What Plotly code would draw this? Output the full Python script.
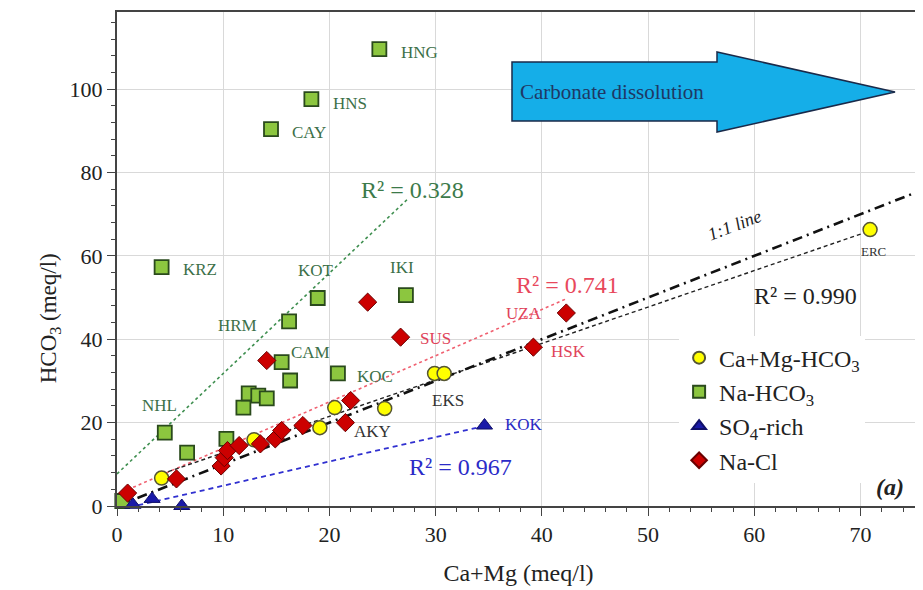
import plotly.graph_objects as go

# ---------------- data ----------------
cam_x = [4.2, 12.9, 19.1, 20.5, 25.2, 29.9, 30.8, 70.9]
cam_y = [6.7, 15.9, 18.8, 23.6, 23.4, 31.8, 31.8, 66.3]

nahco3_x = [0.5, 4.5, 6.6, 10.3, 11.9, 12.4, 13.3, 14.1, 15.5, 16.3, 20.8, 16.2, 18.9, 27.2, 4.2, 14.5, 18.3, 24.7]
nahco3_y = [1.2, 17.6, 12.8, 16.1, 23.6, 27.0, 26.5, 25.8, 34.5, 30.1, 31.8, 44.3, 49.9, 50.6, 57.3, 90.4, 97.6, 109.6]

so4_x = [1.5, 3.3, 6.1, 34.6]
so4_y = [0.3, 1.7, 0.0, 19.3]

nacl_x = [1.0, 5.6, 9.8, 10.1, 10.4, 11.5, 13.5, 14.9, 15.5, 17.5, 21.5, 22.0, 14.1, 23.6, 26.7, 39.2, 42.3]
nacl_y = [3.1, 6.5, 9.6, 11.6, 13.3, 14.5, 14.9, 16.1, 18.1, 19.3, 20.0, 25.3, 34.9, 48.9, 40.5, 38.1, 46.3]

# trend line end points
fit_green_x = [0.0, 27.4]
fit_green_y = [7.7, 73.7]
fit_red_x = [1.0, 42.3]
fit_red_y = [3.9, 49.7]
fit_blue_x = [2.0, 34.6]
fit_blue_y = [0.2, 19.2]
fit_black_x = [4.2, 70.9]
fit_black_y = [7.7, 66.0]
one_x = [0, 75.6]
one_y = [0, 75.6]

r2_text = ["R² = 0.328", "R² = 0.741", "R² = 0.967", "R² = 0.990"]
r2_x = [27.8, 42.4, 32.3, 64.8]
r2_y = [75.9, 53.0, 9.4, 50.4]

# point labels: (text, x, y)
green_labels = [("HNG", 24.7, 109.6), ("HNS", 18.3, 97.6), ("CAY", 14.5, 90.4), ("KRZ", 4.2, 57.3),
                ("KOT", 18.9, 49.9), ("IKI", 27.2, 50.6), ("HRM", 16.2, 44.3), ("CAM", 15.5, 34.5),
                ("KOC", 20.8, 31.8), ("NHL", 4.5, 17.6)]
red_labels = [("SUS", 26.7, 40.5), ("UZA", 42.3, 46.3), ("HSK", 39.2, 38.1)]
black_labels = [("EKS", 30.3, 31.8), ("AKY", 21.5, 20.0), ("ERC", 70.9, 66.3)]
blue_labels = [("KOK", 34.6, 19.3)]

SERIF = "'Liberation Serif', 'Times New Roman', Times, serif"
GREEN_TXT = "#3c7048"
RED_TXT = "#e0435a"
BLUE_TXT = "#2a2ac4"

fig = go.Figure()

# trend lines
fig.add_trace(go.Scatter(x=fit_green_x, y=fit_green_y, mode="lines", showlegend=False,
                         line=dict(color="#3f8f50", width=1.6, dash="3px,3px"), hoverinfo="skip"))
fig.add_trace(go.Scatter(x=fit_red_x, y=fit_red_y, mode="lines", showlegend=False,
                         line=dict(color="#f06070", width=1.6, dash="3px,3px"), hoverinfo="skip"))
fig.add_trace(go.Scatter(x=fit_blue_x, y=fit_blue_y, mode="lines", showlegend=False,
                         line=dict(color="#3030d0", width=1.8, dash="5px,4px"), hoverinfo="skip"))
fig.add_trace(go.Scatter(x=fit_black_x, y=fit_black_y, mode="lines", showlegend=False,
                         line=dict(color="#222222", width=1.4, dash="4px,3px"), hoverinfo="skip"))
fig.add_trace(go.Scatter(x=one_x, y=one_y, mode="lines", showlegend=False,
                         line=dict(color="#111111", width=2.6, dash="10px,5px,2px,5px"), hoverinfo="skip"))

# data points
fig.add_trace(go.Scatter(x=cam_x, y=cam_y, mode="markers", name="Ca+Mg-HCO<sub>3</sub>", cliponaxis=False,
                         marker=dict(symbol="circle", size=14, color="#ffff00",
                                     line=dict(color="#555533", width=1.5))))
fig.add_trace(go.Scatter(x=nahco3_x, y=nahco3_y, mode="markers", name="Na-HCO<sub>3</sub>", cliponaxis=False,
                         marker=dict(symbol="square", size=14, color="#8cc63f",
                                     line=dict(color="#2a4a1c", width=1.8))))
fig.add_trace(go.Scatter(x=so4_x, y=so4_y, mode="markers", name="SO<sub>4</sub>-rich", cliponaxis=False,
                         marker=dict(symbol="triangle-up", size=14, color="#1a1aa8",
                                     line=dict(color="#10106a", width=1))))
fig.add_trace(go.Scatter(x=nacl_x, y=nacl_y, mode="markers", name="Na-Cl", cliponaxis=False,
                         marker=dict(symbol="diamond", size=14, color="#cc0000",
                                     line=dict(color="#6a0000", width=1))))

ann = []
# label offsets (pixel shifts)
green_off = {"HNG": (20, -3, "left"), "HNS": (20, -4, "left"), "CAY": (19, -3, "left"),
             "KRZ": (19, -2, "left"), "KOT": (-2, 27, "center"), "IKI": (-4, 28, "center"),
             "HRM": (-30, -4, "right"), "CAM": (7, 10, "left"), "KOC": (17, -3, "left"),
             "NHL": (-5, 27, "center")}
for t, x, y in green_labels:
    dx, dy, xa = green_off[t]
    ann.append(dict(x=x, y=y, xref="x", yref="y", text=t, showarrow=False, xanchor=xa, yanchor="middle",
                    xshift=dx, yshift=dy, font=dict(family=SERIF, size=17, color=GREEN_TXT)))
red_off = {"SUS": (17, -1, "left"), "UZA": (-22, -1, "right"), "HSK": (16, -4, "left")}
for t, x, y in red_labels:
    dx, dy, xa = red_off[t]
    ann.append(dict(x=x, y=y, xref="x", yref="y", text=t, showarrow=False, xanchor=xa, yanchor="middle",
                    xshift=dx, yshift=dy, font=dict(family=SERIF, size=17, color=RED_TXT)))
black_off = {"EKS": (9, -27, "center", 17), "AKY": (7, -9, "left", 17), "ERC": (3, -22, "center", 13)}
for t, x, y in black_labels:
    dx, dy, xa, fs = black_off[t]
    ann.append(dict(x=x, y=y, xref="x", yref="y", text=t, showarrow=False, xanchor=xa, yanchor="middle",
                    xshift=dx, yshift=dy, font=dict(family=SERIF, size=fs, color="#333333")))
for t, x, y in blue_labels:
    ann.append(dict(x=x, y=y, xref="x", yref="y", text=t, showarrow=False, xanchor="left", yanchor="middle",
                    xshift=18, yshift=1, font=dict(family=SERIF, size=17, color=BLUE_TXT)))

r2_col = ["#3c7a4a", "#e8485c", "#2b2bc8", "#222222"]
for t, x, y, c in zip(r2_text, r2_x, r2_y, r2_col):
    ann.append(dict(x=x, y=y, xref="x", yref="y", text=t, showarrow=False,
                    xanchor="center", yanchor="middle",
                    font=dict(family=SERIF, size=24, color=c)))

ann.append(dict(x=0.4994, y=0.838, xref="paper", yref="paper", text="Carbonate dissolution",
                showarrow=False, xanchor="left", yanchor="middle",
                font=dict(family=SERIF, size=21, color="#1f3864")))
ann.append(dict(x=0.7696, y=0.568, xref="paper", yref="paper", text="<i>1:1 line</i>",
                showarrow=False, textangle=-21, xanchor="center", yanchor="middle",
                font=dict(family=SERIF, size=18, color="#222222")))
ann.append(dict(x=0.963, y=0.038, xref="paper", yref="paper", text="<b><i>(a)</i></b>",
                showarrow=False, xanchor="center", yanchor="middle",
                font=dict(family=SERIF, size=24, color="#222222")))
# y axis title placed as in the reference (below the plot centre)
ann.append(dict(x=-0.0834, y=0.38, xref="paper", yref="paper", text="HCO<sub>3</sub> (meq/l)",
                showarrow=False, textangle=-90, xanchor="center", yanchor="middle",
                font=dict(family=SERIF, size=23, color="#222222")))

# arrow shape (paper coordinates)
arrow_path = ("M 0.4919 0.8988 L 0.7472 0.8988 L 0.7472 0.9190 L 0.9689 0.8381 "
              "L 0.7472 0.7571 L 0.7472 0.7794 L 0.4919 0.7794 Z")
shapes = [dict(type="path", xref="paper", yref="paper", path=arrow_path,
               fillcolor="#15aee8", line=dict(color="#1a2a4a", width=1.5), layer="above")]

axis_font = dict(family=SERIF, size=22, color="#222222")
fig.update_layout(
    width=923, height=590,
    margin=dict(l=109, r=11, t=4, b=92),
    paper_bgcolor="white", plot_bgcolor="white",
    font=dict(family=SERIF, color="#222222"),
    annotations=ann, shapes=shapes,
    legend=dict(x=0.70, y=0.345, xanchor="left", yanchor="top", bgcolor="white",
                font=dict(family=SERIF, size=24, color="#222222"), tracegroupgap=0,
                itemsizing="constant"),
    xaxis=dict(range=[0, 75.6], tick0=0, dtick=10, showgrid=True, gridcolor="#d9d9d9", gridwidth=1,
               zeroline=False, showline=True, mirror=True, linecolor="#444444", linewidth=2,
               ticks="outside", ticklen=8, tickcolor="#444444", tickfont=axis_font, automargin=False,
               minor=dict(ticks="outside", dtick=2, ticklen=4, tickcolor="#444444", showgrid=False),
               title=dict(text="Ca+Mg (meq/l)", font=dict(family=SERIF, size=24), standoff=18)),
    yaxis=dict(range=[0, 118.5], tick0=0, dtick=20, showgrid=True, gridcolor="#d9d9d9", gridwidth=1,
               zeroline=False, showline=True, mirror=True, linecolor="#444444", linewidth=2,
               ticks="outside", ticklen=8, tickcolor="#444444", tickfont=axis_font, automargin=False,
               minor=dict(ticks="outside", dtick=4, ticklen=4, tickcolor="#444444", showgrid=False)),
)

fig.write_html("out.html")
